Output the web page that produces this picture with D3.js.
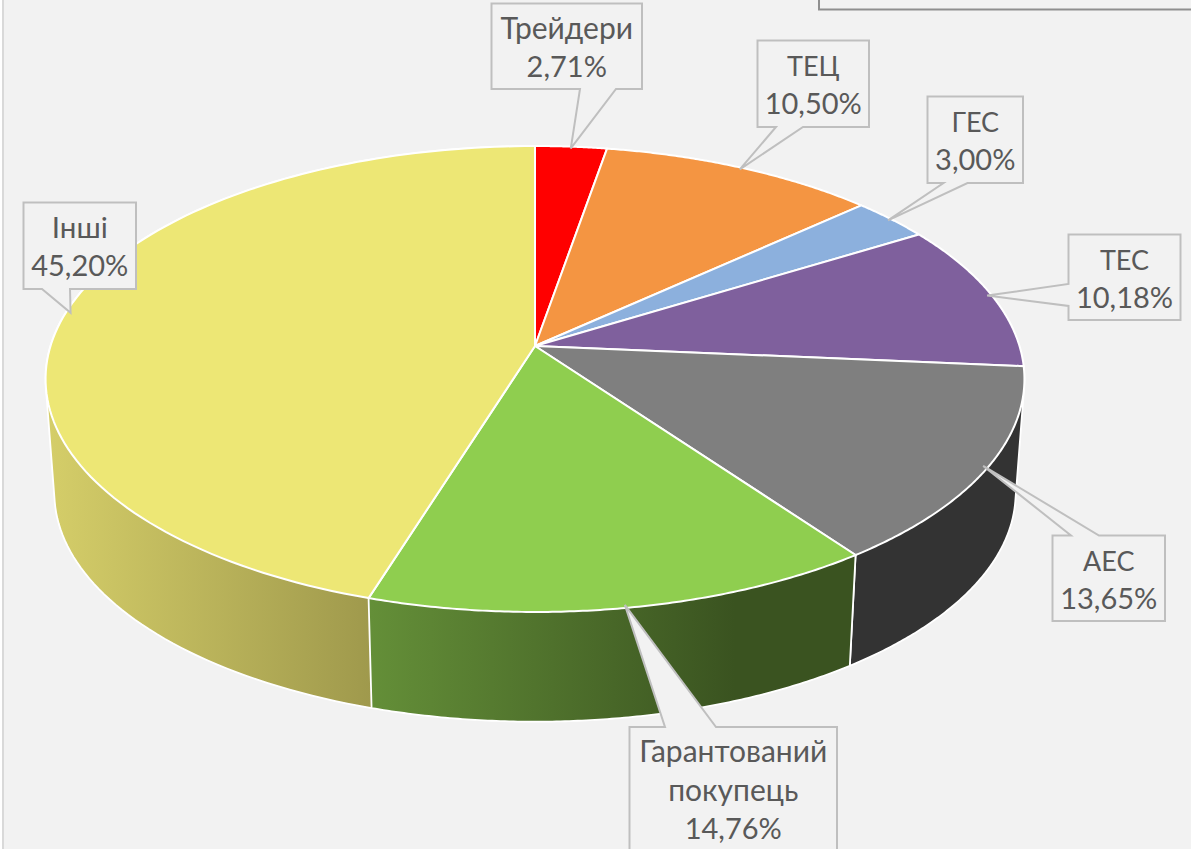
<!DOCTYPE html>
<html><head><meta charset="utf-8">
<script src="https://cdnjs.cloudflare.com/ajax/libs/d3/7.8.5/d3.min.js"></script>
<style>html,body{margin:0;padding:0;overflow:hidden;background:#f2f2f2}svg{display:block}</style>
</head><body><div id="chart"></div>
<script>
// Data
const categories = ["Трейдери","ТЕЦ","ГЕС","ТЕС","АЕС","Гарантований покупець","Інші"];
const labelLines = [["Трейдери"],["ТЕЦ"],["ГЕС"],["ТЕС"],["АЕС"],["Гарантований","покупець"],["Інші"]];
const values = [2.71,10.50,3.00,10.18,13.65,14.76,45.20];
const colors = ["#ff0000","#f49542","#8cb0dd","#7f609d","#7f7f7f","#8fce4f","#ede775"];
// Layout of callouts: box [x0,y0,x1,y1], side of pointer, pointer base [from,to]
const boxes = [[491.5,3.5,642,89],[757.5,40.5,869,127],[927.5,96.5,1023,183],[1068.5,234.5,1180.5,320],[1052.5,535.5,1165,621],[629.5,727,837,870],[23.5,202.5,136,289]];
const sides = ["bottom","bottom","bottom","left","top","top","bottom"];
const bases = [[580,616],[776,803],[943.5,967.5],[284,306],[1071,1099],[665,716],[42,70]];
const nameSizes = [30,27,27,27,27,30,29.5];

const W=1191,H=849;
const svg=d3.select("#chart").append("svg").attr("width",W).attr("height",H);
const defs=svg.append("defs");
function grad(id,x1,x2,c1,c2){const g=defs.append("linearGradient").attr("id",id).attr("gradientUnits","userSpaceOnUse").attr("x1",x1).attr("x2",x2).attr("y1",0).attr("y2",0);
 g.append("stop").attr("offset",0).attr("stop-color",c1);g.append("stop").attr("offset",1).attr("stop-color",c2);}
grad("gY",46,372,"#d5ce69","#9f994c");
grad("gG",370,735,"#648f38","#3a5320");

svg.append("rect").attr("width",W).attr("height",H).attr("fill","#f2f2f2");
svg.append("rect").attr("x",0).attr("width",2).attr("height",H).attr("fill","#ffffff");
svg.append("rect").attr("x",2).attr("width",2).attr("height",H).attr("fill","#d9d9d9");
svg.append("rect").attr("x",819).attr("y",-20).attr("width",420).attr("height",29.5).attr("fill","none").attr("stroke","#8f8f8f").attr("stroke-width",2);

// Perspective projection of the pie disc
const cx=535,cy=346,A=484.5,B=228.3,k=0.1416,s=0.982,depth=114.5;
function topPt(t,r=1){const u=r*Math.sin(t),v=-r*Math.cos(t),w=1-k*v;return [cx+A*u/w,cy+B*v/w];}
function lowPt(t){const p=topPt(t);return [cx+s*(p[0]-cx),cy+s*(p[1]-cy)+depth];}
const arcs=d3.pie().sort(null).value(d=>d)(values);
const samples=(a,b)=>d3.range(0,121).map(i=>a+(b-a)*i/120);
const line=d3.line().curve(d3.curveLinear);

// Sides: dark first, yellow next, green last so the hull chords stay hidden
const sideFill={4:"#333333",5:"url(#gG)",6:"url(#gY)"};
[4,6,5].forEach(i=>{const a=arcs[i];const ts=samples(a.startAngle,a.endAngle);
 const pts=ts.map(t=>topPt(t)).concat(ts.map(t=>lowPt(t)));
 const hull=d3.polygonHull(pts);
 svg.append("path").attr("d",line(hull)+"Z").attr("fill",sideFill[i]).attr("stroke","#ffffff").attr("stroke-width",1.8).attr("stroke-linejoin","round");
});
// Top face
arcs.forEach((a,i)=>{
 const pts=[[cx,cy]].concat(samples(a.startAngle,a.endAngle).map(t=>topPt(t)));
 svg.append("path").attr("d",line(pts)+"Z").attr("fill",colors[i]).attr("stroke","#ffffff").attr("stroke-width",2).attr("stroke-linejoin","round");
});
// Callouts
const fmt=v=>v.toFixed(2).replace(".",",")+"%";
arcs.forEach((a,i)=>{
 const [x0,y0,x1,y1]=boxes[i],[b0,b1]=bases[i],tip=topPt((a.startAngle+a.endAngle)/2,0.99);
 let p;
 if(sides[i]==="bottom")p=[[x0,y0],[x1,y0],[x1,y1],[b1,y1],tip,[b0,y1],[x0,y1]];
 else if(sides[i]==="top")p=[[x0,y0],[b0,y0],tip,[b1,y0],[x1,y0],[x1,y1],[x0,y1]];
 else p=[[x0,y0],[x1,y0],[x1,y1],[x0,y1],[x0,b1],tip,[x0,b0]];
 svg.append("path").attr("d",line(p)+"Z").attr("fill","#f2f2f2").attr("stroke","#bfbfbf").attr("stroke-width",2);
 const names=labelLines[i],lines=names.concat([fmt(a.data)]);
 const xc=(x0+x1)/2,first=y0+35;
 lines.forEach((t,j)=>svg.append("text").attr("x",xc).attr("y",first+j*38.7).attr("text-anchor","middle")
  .attr("font-family","Lato, 'Open Sans', sans-serif").attr("font-size",j<names.length?nameSizes[i]:29).attr("fill","#595959").text(t));
});
</script></body></html>
